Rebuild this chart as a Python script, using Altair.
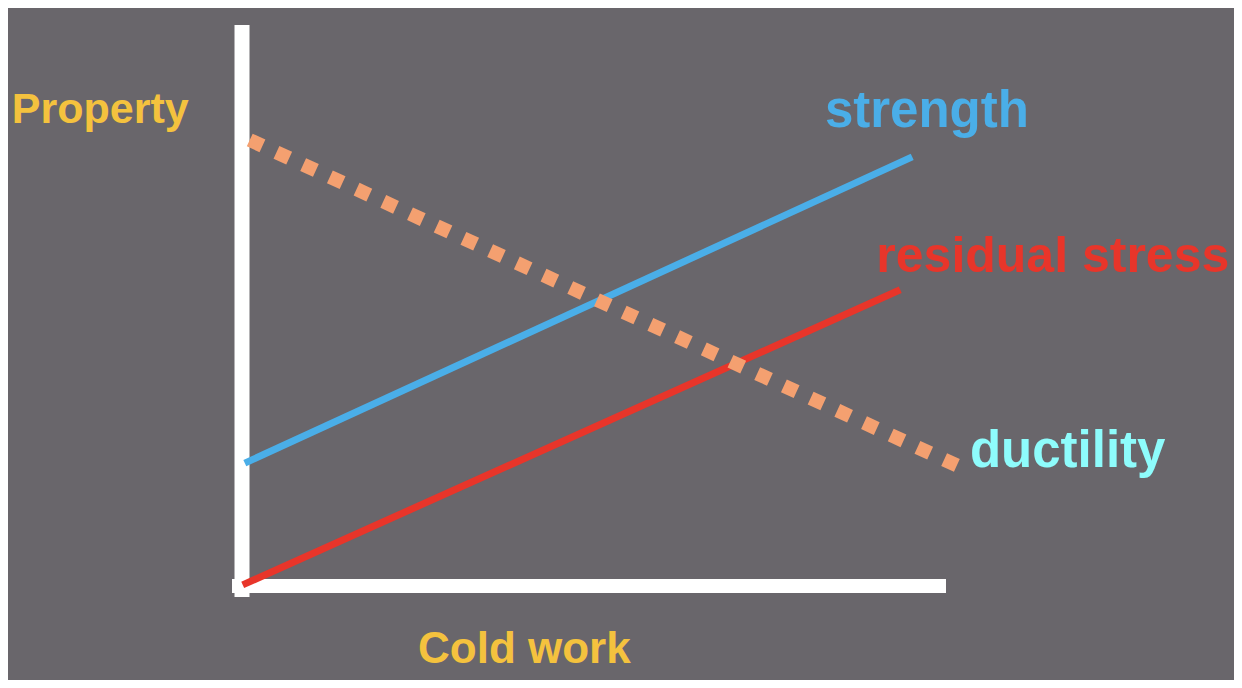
import altair as alt
import pandas as pd

# Data (conceptual units: cold work 0-100, property 0-100)
series_names = ["strength", "residual stress", "ductility"]
strength_x = [0.4, 95.2]
strength_y = [21.9, 76.5]
residual_x = [0.1, 93.5]
residual_y = [0.2, 52.8]
ductility_x = [1.1, 101.7]
ductility_y = [79.5, 21.4]

label_texts = ["strength", "residual stress", "ductility"]
label_x = [82.8, 90.1, 103.4]
label_y = [81.8, 56.0, 21.2]
label_sizes = [51, 50, 51]

axis_titles = ["Property", "Cold work"]
axis_title_x = [-32.7, 25.0]
axis_title_y = [82.5, -13.7]
axis_title_sizes = [43, 44]

BG = "#69666b"
YELLOW = "#f4c23e"
BLUE = "#4aaee8"
RED = "#e8352a"
CYAN = "#8efcfc"
SALMON = "#f4a070"

xs = alt.Scale(domain=[-33.24, 140.91], nice=False, zero=False)
ys = alt.Scale(domain=[-16.76, 103.03], nice=False, zero=False)

def line_df(xv, yv):
    return pd.DataFrame({"x": xv, "y": yv})

X = lambda: alt.X("x:Q", scale=xs, axis=None)
Y = lambda: alt.Y("y:Q", scale=ys, axis=None)

vrule = alt.Chart(pd.DataFrame({"x": [0.0], "y": [-1.96], "y2": [100.0]})).mark_rule(
    color="white", strokeWidth=15, strokeCap="butt"
).encode(x=X(), y=Y(), y2="y2:Q")

hrule = alt.Chart(pd.DataFrame({"y": [0.0], "x": [-1.42], "x2": [100.0]})).mark_rule(
    color="white", strokeWidth=14, strokeCap="butt"
).encode(x=X(), x2="x2:Q", y=Y())

strength = alt.Chart(line_df(strength_x, strength_y)).mark_line(
    color=BLUE, strokeWidth=7, strokeCap="butt"
).encode(x=X(), y=Y())

residual = alt.Chart(line_df(residual_x, residual_y)).mark_line(
    color=RED, strokeWidth=7, strokeCap="butt"
).encode(x=X(), y=Y())

ductility = alt.Chart(line_df(ductility_x, ductility_y)).mark_line(
    color=SALMON, strokeWidth=14, strokeCap="butt", strokeDash=[14, 15.4]
).encode(x=X(), y=Y())

labels_df = pd.DataFrame({"t": label_texts, "x": label_x, "y": label_y,
                          "c": [BLUE, RED, CYAN], "s": label_sizes})
labels = alt.Chart(labels_df).mark_text(
    align="left", baseline="alphabetic", font="Liberation Sans",
    fontWeight="bold"
).encode(x=X(), y=Y(), text="t:N", color=alt.Color("c:N", scale=None),
         size=alt.Size("s:Q", scale=None, legend=None))

titles_df = pd.DataFrame({"t": axis_titles, "x": axis_title_x, "y": axis_title_y,
                          "s": axis_title_sizes})
titles = alt.Chart(titles_df).mark_text(
    align="left", baseline="alphabetic", font="Liberation Sans",
    fontWeight="bold", color=YELLOW
).encode(x=X(), y=Y(), text="t:N", size=alt.Size("s:Q", scale=None, legend=None))

chart = alt.layer(vrule, hrule, strength, residual, ductility, labels, titles).properties(
    width=1226, height=672, padding=0, background=BG,
    autosize=alt.AutoSizeParams(type="none")
).configure_view(stroke=None)

chart.save("out.html", embed_options={"renderer": "svg", "actions": False})
